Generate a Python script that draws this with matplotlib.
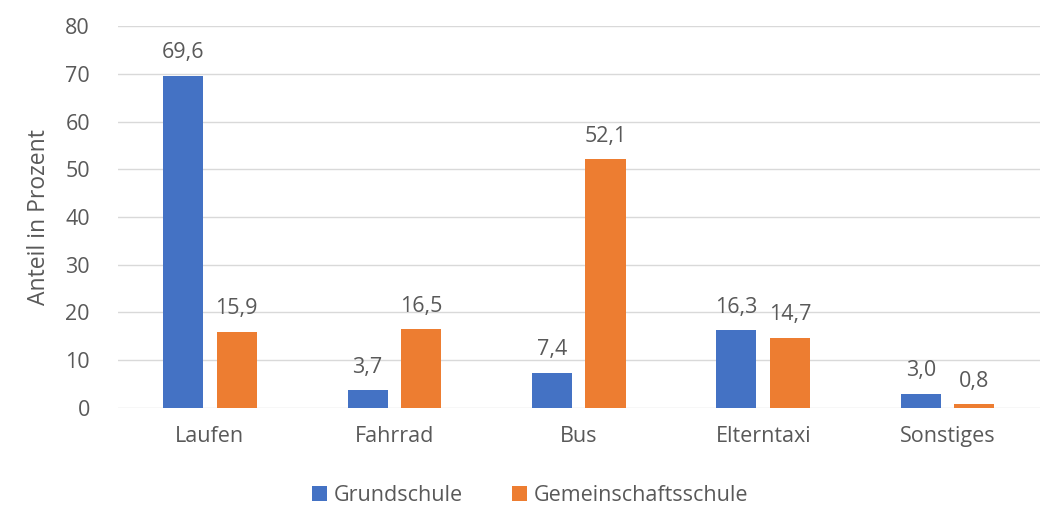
import numpy as np
import matplotlib.pyplot as plt

plt.rcParams['font.family'] = ['Open Sans', 'DejaVu Sans']

categories = ['Laufen', 'Fahrrad', 'Bus', 'Elterntaxi', 'Sonstiges']
grundschule = [69.6, 3.7, 7.4, 16.3, 3.0]
gemeinschaftsschule = [15.9, 16.5, 52.1, 14.7, 0.8]
series_names = ['Grundschule', 'Gemeinschaftsschule']

blue = '#4472C4'
orange = '#ED7D31'
txt = '#595959'

fig = plt.figure(figsize=(10.6, 5.13), dpi=100)
ax = fig.add_axes([0.111, 0.205, 0.870, 0.744])

x = np.arange(len(categories))
w = 0.217
off = 0.145
b1 = ax.bar(x - off, grundschule, w, color=blue, label=series_names[0], zorder=3)
b2 = ax.bar(x + off, gemeinschaftsschule, w, color=orange, label=series_names[1], zorder=3)

for bars, vals in ((b1, grundschule), (b2, gemeinschaftsschule)):
    for b, v in zip(bars, vals):
        ax.annotate(f'{v:.1f}'.replace('.', ','), (b.get_x() + b.get_width() / 2, v),
                    xytext=(0, 9), textcoords='offset points', ha='center', va='bottom',
                    fontsize=15.5, color=txt)

ax.set_xlim(-0.5, len(categories) - 0.5)
ax.set_ylim(0, 80)
ax.set_yticks(range(0, 81, 10))
ax.set_xticks(x)
ax.set_xticklabels(categories)
ax.tick_params(axis='both', length=0, labelsize=15.5, colors=txt)
ax.tick_params(axis='x', pad=13)
ax.tick_params(axis='y', pad=20)
ax.grid(axis='y', color='#D9D9D9', linewidth=1, zorder=0)
for s in ax.spines.values():
    s.set_visible(False)
ax.set_ylabel('Anteil in Prozent', fontsize=16.5, color=txt, labelpad=10)

fig.legend(loc='lower center', bbox_to_anchor=(0.5, -0.025), ncol=2, frameon=False,
           fontsize=15.5, labelcolor=txt, handlelength=0.7, handleheight=0.7,
           handletextpad=0.3, columnspacing=2.3)

fig.savefig('out.png', dpi=100)
